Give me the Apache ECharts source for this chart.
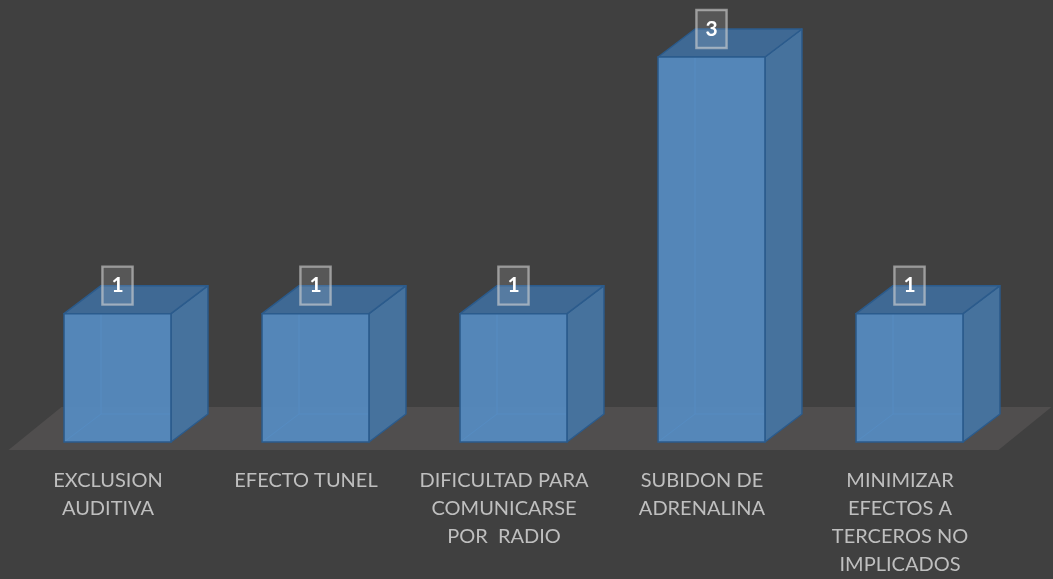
<!DOCTYPE html>
<html>
<head>
<meta charset="utf-8">
<title>chart</title>
<script src="https://cdn.jsdelivr.net/npm/echarts@6/dist/echarts.min.js"></script>
<style>
  html, body { margin: 0; padding: 0; background: #404040; }
  #main { width: 1053px; height: 579px; }
</style>
</head>
<body>
<div id="main"></div>
<script>
'use strict';
var categories = [
  'EXCLUSION\nAUDITIVA',
  'EFECTO TUNEL',
  'DIFICULTAD PARA\nCOMUNICARSE\nPOR  RADIO',
  'SUBIDON DE\nADRENALINA',
  'MINIMIZAR\nEFECTOS A\nTERCEROS NO\nIMPLICADOS'
];
var values = [1, 1, 1, 3, 1];

// 3d look
var DEPTH_X = 37, DEPTH_Y = 28; // bar depth
var FLOOR_X = 53, FLOOR_Y = 43; // floor depth
var FLOOR_FRONT = 8;            // floor front edge below the axis

var chart = echarts.init(document.getElementById('main'));

function renderFloor(params, api) {
  var catW = api.size([1, 0])[0];
  var p = api.coord([0, 0]);
  var left = p[0] - catW / 2 - 10;
  var right = left + catW * categories.length;
  var y = p[1] + FLOOR_FRONT;
  return {
    type: 'polygon',
    shape: { points: [[left, y], [right, y], [right + FLOOR_X, y - FLOOR_Y], [left + FLOOR_X, y - FLOOR_Y]] },
    style: { fill: '#504e4e' },
    silent: true
  };
}

function renderBar(params, api) {
  var top = api.coord([api.value(0), api.value(1)]);
  var base = api.coord([api.value(0), 0]);
  var w = api.size([1, 0])[0] * 0.54;
  var x0 = top[0] - w / 2, x1 = top[0] + w / 2;
  var y0 = base[1], y1 = top[1];
  var dx = DEPTH_X, dy = DEPTH_Y;
  var edge = '#2b5b8c';
  return {
    type: 'group',
    children: [
      { // hidden back edges
        type: 'polyline',
        shape: { points: [[x0, y0], [x0 + dx, y0 - dy], [x1 + dx, y0 - dy]] },
        style: { stroke: '#4f86be', lineWidth: 1, fill: null }
      },
      {
        type: 'line',
        shape: { x1: x0 + dx, y1: y1 - dy, x2: x0 + dx, y2: y0 - dy },
        style: { stroke: '#4f86be', lineWidth: 1 }
      },
      { // side
        type: 'polygon',
        shape: { points: [[x1, y0], [x1 + dx, y0 - dy], [x1 + dx, y1 - dy], [x1, y1]] },
        style: { fill: '#46729d', stroke: edge, lineWidth: 1.5, lineJoin: 'round' }
      },
      { // top
        type: 'polygon',
        shape: { points: [[x0, y1], [x1, y1], [x1 + dx, y1 - dy], [x0 + dx, y1 - dy]] },
        style: { fill: '#3f6994', stroke: edge, lineWidth: 1.5, lineJoin: 'round' }
      },
      { // front
        type: 'rect',
        shape: { x: x0, y: y1, width: w, height: y0 - y1 },
        style: { fill: 'rgba(86,140,194,0.93)', stroke: edge, lineWidth: 1.5 }
      },
      { // value box
        type: 'text',
        x: top[0],
        y: y1 - dy,
        style: {
          text: String(api.value(1)),
          fill: '#ffffff',
          font: 'bold 21px Lato, sans-serif',
          align: 'center',
          verticalAlign: 'middle',
          lineHeight: 20,
          padding: [9, 9, 9, 9],
          backgroundColor: 'rgba(255,255,255,0.12)',
          borderColor: 'rgba(210,210,210,0.6)',
          borderWidth: 1.2,
          boxShadowColor: 'rgba(20,20,20,0.45)',
          boxShadowBlur: 14,
          boxShadowOffsetY: 12
        }
      }
    ]
  };
}

var option = {
  backgroundColor: '#404040',
  animation: false,
  grid: { left: 18.5, right: 44.5, top: 57, bottom: 136 },
  xAxis: {
    type: 'category',
    data: categories,
    axisLine: { show: false },
    axisTick: { show: false },
    axisLabel: {
      interval: 0,
      color: '#bfbfbf',
      fontFamily: 'Lato, sans-serif',
      fontSize: 20,
      lineHeight: 28,
      margin: 25,
      padding: [0, 19, 0, 0]
    }
  },
  yAxis: {
    type: 'value',
    min: 0,
    max: 3,
    show: false,
    splitLine: { show: false }
  },
  series: [
    {
      name: 'floor',
      type: 'custom',
      clip: false,
      silent: true,
      data: [[0, 0]],
      renderItem: renderFloor
    },
    {
      name: 'values',
      type: 'custom',
      clip: false,
      data: values.map(function (v, i) { return [i, v]; }),
      encode: { x: 0, y: 1 },
      renderItem: renderBar
    }
  ]
};
chart.setOption(option);
</script>
</body>
</html>
